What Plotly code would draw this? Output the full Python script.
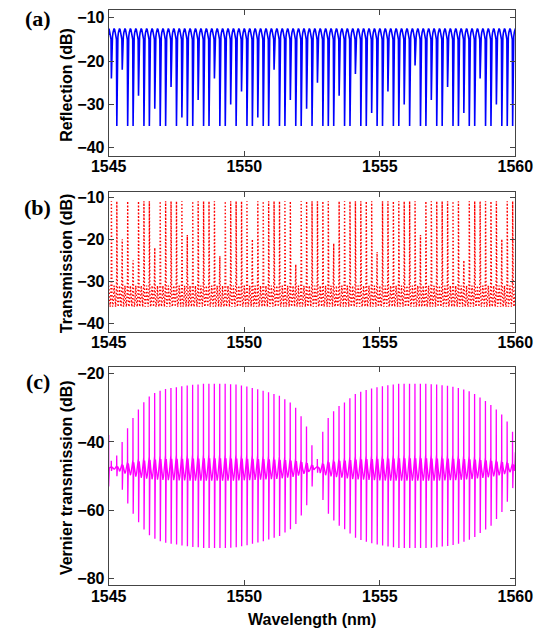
import plotly.graph_objects as go

# ---------------- data ----------------
# fringe (resonance) wavelengths, nm
fringe_wl = [
    1545.1, 1545.3, 1545.5, 1545.7, 1545.9,
    1546.1, 1546.3, 1546.5, 1546.7, 1546.9,
    1547.1, 1547.3, 1547.5, 1547.7, 1547.9,
    1548.1, 1548.3, 1548.5, 1548.7, 1548.9,
    1549.1, 1549.3, 1549.5, 1549.7, 1549.9,
    1550.1, 1550.3, 1550.5, 1550.7, 1550.9,
    1551.1, 1551.3, 1551.5, 1551.7, 1551.9,
    1552.1, 1552.3, 1552.5, 1552.7, 1552.9,
    1553.1, 1553.3, 1553.5, 1553.7, 1553.9,
    1554.1, 1554.3, 1554.5, 1554.7, 1554.9,
    1555.1, 1555.3, 1555.5, 1555.7, 1555.9,
    1556.1, 1556.3, 1556.5, 1556.7, 1556.9,
    1557.1, 1557.3, 1557.5, 1557.7, 1557.9,
    1558.1, 1558.3, 1558.5, 1558.7, 1558.9,
    1559.1, 1559.3, 1559.5, 1559.7, 1559.9,
]

# (a) reflection: flat top level, ripple level, dip depth of each fringe (dB)
refl_peak = -12.5
refl_ripple = -15.0
refl_dip = [
    -24, -35, -22, -35, -35,
    -28, -35, -35, -31, -35,
    -35, -26, -35, -33, -35,
    -35, -29, -35, -35, -24,
    -35, -35, -30, -35, -27,
    -35, -35, -33, -35, -35,
    -22, -35, -35, -29, -35,
    -35, -31, -35, -25, -35,
    -35, -35, -28, -35, -35,
    -23, -35, -35, -32, -35,
    -35, -27, -35, -35, -30,
    -35, -21, -35, -35, -29,
    -35, -35, -26, -35, -35,
    -32, -35, -35, -24, -35,
    -35, -30, -35, -35, -35,
]

# (b) transmission: peak level of each fringe, baseline levels (dB)
trans_peak = [
    -11, -11, -20, -11, -25,
    -11, -11, -11, -22, -11,
    -11, -11, -11, -11, -19,
    -11, -11, -11, -11, -11,
    -24, -11, -11, -11, -11,
    -11, -20, -11, -11, -11,
    -11, -11, -11, -11, -26,
    -11, -11, -11, -11, -11,
    -11, -21, -11, -11, -11,
    -11, -11, -11, -11, -23,
    -11, -11, -11, -11, -11,
    -11, -11, -19, -11, -11,
    -11, -11, -11, -11, -11,
    -25, -11, -11, -11, -11,
    -11, -11, -20, -11, -11,
]
trans_floor = -36.0
trans_mid = -31.0

# (c) Vernier transmission: upper and lower extreme of each fringe (dB)
vern_top = [
    -45.5, -44.0, -40.0, -36.0, -33.0,
    -30.5, -28.4, -26.7, -25.7, -25.0,
    -24.5, -24.2, -24.0, -23.7, -23.5,
    -23.3, -23.2, -23.0, -23.0, -23.0,
    -23.0, -23.0, -23.1, -23.2, -23.5,
    -23.8, -24.2, -24.6, -25.0, -25.5,
    -26.0, -26.5, -27.5, -28.5, -30.0,
    -32.5, -35.5, -41.0, -45.0, -37.0,
    -33.0, -31.0, -29.5, -28.5, -27.2,
    -26.0, -25.3, -24.8, -24.4, -24.0,
    -23.7, -23.4, -23.2, -23.0, -23.0,
    -23.0, -23.0, -23.0, -23.0, -23.1,
    -23.2, -23.4, -23.6, -23.9, -24.2,
    -24.7, -25.2, -26.0, -27.0, -28.0,
    -29.2, -30.5, -32.0, -34.0, -37.0,
]
vern_bot = [
    -48.5, -50.0, -54.0, -58.0, -61.0,
    -63.5, -65.6, -67.3, -68.3, -69.0,
    -69.5, -69.8, -70.0, -70.3, -70.5,
    -70.7, -70.8, -71.0, -71.0, -71.0,
    -71.0, -71.0, -70.9, -70.8, -70.5,
    -70.2, -69.8, -69.4, -69.0, -68.5,
    -68.0, -67.5, -66.5, -65.5, -64.0,
    -61.5, -58.5, -53.0, -49.0, -57.0,
    -61.0, -63.0, -64.5, -65.5, -66.8,
    -68.0, -68.7, -69.2, -69.6, -70.0,
    -70.3, -70.6, -70.8, -71.0, -71.0,
    -71.0, -71.0, -71.0, -71.0, -70.9,
    -70.8, -70.6, -70.4, -70.1, -69.8,
    -69.2, -68.6, -67.8, -66.6, -65.6,
    -64.5, -62.5, -60.5, -57.5, -53.5,
]
vern_center = -47.5
vern_start = [-38.0, -53.0]   # values at 1545.0 (left edge)
vern_end = -43.0              # value at 1560.0 (right edge)

x_ticks = [1545, 1550, 1555, 1560]
ya_ticks = [-40, -30, -20, -10]
yb_ticks = [-40, -30, -20, -10]
yc_ticks = [-80, -60, -40, -20]

# ---------------- build line paths (fringe line shape) ----------------
xa, ya = [1545.0], [refl_ripple + 1]
for wl, d in zip(fringe_wl, refl_dip):
    pts = [(-0.1, refl_peak), (-0.08, refl_peak - 0.2), (-0.06, refl_peak - 0.9),
           (-0.04, refl_ripple + 0.6), (-0.014, refl_ripple), (0.0, d),
           (0.014, refl_ripple), (0.04, refl_ripple + 0.6), (0.06, refl_peak - 0.9),
           (0.08, refl_peak - 0.2)]
    for dx, v in pts:
        xa.append(wl + dx); ya.append(v)
xa.append(1560.0); ya.append(refl_peak)

xb, yb = [1545.0], [trans_mid]
for wl, p in zip(fringe_wl, trans_peak):
    pts = [(-0.1, trans_mid), (-0.07, trans_floor + 1), (-0.045, trans_floor),
           (-0.02, trans_floor + 3), (-0.004, trans_floor + 8), (0.0, p),
           (0.004, trans_floor + 8), (0.02, trans_floor + 3), (0.045, trans_floor),
           (0.07, trans_floor + 1)]
    for dx, v in pts:
        xb.append(wl + dx); yb.append(v)
xb.append(1560.0); yb.append(trans_mid)

xc, yc = [1545.0, 1545.0], list(vern_start)
for wl, t, b in zip(fringe_wl, vern_top, vern_bot):
    r = 0.16 * (t - b) / 2
    c = vern_center
    pts = [(-0.1, c - r), (-0.075, c - 0.7 * r), (-0.05, c), (-0.025, c + 0.7 * r),
           (-0.007, c + r), (-0.004, t), (0.004, b), (0.007, c + r),
           (0.025, c + 0.7 * r), (0.05, c), (0.075, c - 0.7 * r)]
    for dx, v in pts:
        xc.append(wl + dx); yc.append(v)
xc.append(1560.0); yc.append(vern_end)

# ---------------- figure ----------------
W, H = 553, 632
fig = go.Figure()
fig.add_trace(go.Scatter(x=xa, y=ya, mode="lines", xaxis="x", yaxis="y",
                         line=dict(color="#0000ff", width=1.6)))
fig.add_trace(go.Scatter(x=xb, y=yb, mode="lines", xaxis="x2", yaxis="y2",
                         line=dict(color="#ff0000", width=1.4, dash="1.5px,2px")))
fig.add_trace(go.Scatter(x=xc, y=yc, mode="lines", xaxis="x3", yaxis="y3",
                         line=dict(color="#ff00ff", width=1.3)))

xdom = [97 / W, 532 / W]
tickfont = dict(family="Arial, Liberation Sans", size=16, color="black", weight="bold")
axis_common = dict(showline=True, linecolor="#444", linewidth=1, mirror="ticks",
                   ticks="inside", ticklen=5, tickcolor="#444", showgrid=False,
                   zeroline=False, tickfont=tickfont)
xaxis_common = dict(axis_common, ticklabelstandoff=-4, range=[1545, 1560],
                    tickvals=x_ticks, domain=xdom)


def ydom(top, bottom):
    return [1 - bottom / H, 1 - top / H]


fig.update_layout(
    width=W, height=H, margin=dict(l=0, r=0, t=0, b=0),
    paper_bgcolor="white", plot_bgcolor="white", showlegend=False,
    hovermode=False,
    xaxis=dict(anchor="y", **xaxis_common),
    yaxis=dict(domain=ydom(6, 153), range=[-41.8, -8.2], tickvals=ya_ticks, anchor="x", **axis_common),
    xaxis2=dict(anchor="y2", **xaxis_common),
    yaxis2=dict(domain=ydom(190, 331), range=[-41.95, -8.85], tickvals=yb_ticks, anchor="x2", **axis_common),
    xaxis3=dict(anchor="y3", **xaxis_common),
    yaxis3=dict(domain=ydom(366, 587), range=[-81.95, -17.95], tickvals=yc_ticks, anchor="x3", **axis_common),
)

title_font = dict(family="Arial, Liberation Sans", size=16, color="black", weight="bold")
label_font = dict(family="Times New Roman, Liberation Serif", size=22, color="black", weight="bold")
ann = []
for txt, yc_px in [("Reflection (dB)", 82), ("Transmission (dB)", 262), ("Vernier transmission (dB)", 478)]:
    ann.append(dict(text=txt, x=52 / W, y=1 - yc_px / H, xref="paper", yref="paper",
                    xanchor="center", yanchor="middle", textangle=-90, showarrow=False,
                    font=title_font))
for txt, yc_px in [("(a)", 15), ("(b)", 205), ("(c)", 381)]:
    ann.append(dict(text=txt, x=21 / W, y=1 - yc_px / H, xref="paper", yref="paper",
                    xanchor="center", yanchor="middle", showarrow=False, font=label_font))
ann.append(dict(text="Wavelength (nm)", x=314 / W, y=1 - 621 / H, xref="paper", yref="paper",
                xanchor="center", yanchor="middle", showarrow=False, font=title_font))
fig.update_layout(annotations=ann)

fig.write_html("out.html")
